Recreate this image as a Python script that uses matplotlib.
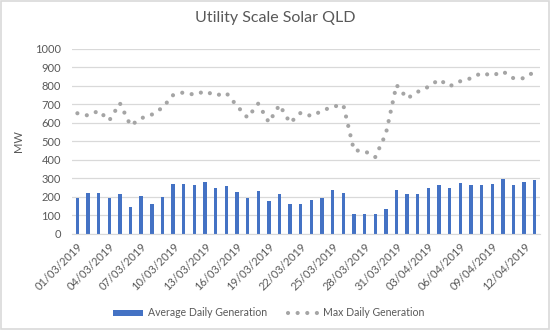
import numpy as np
import pandas as pd
import matplotlib
matplotlib.use("Agg")
import matplotlib.pyplot as plt
from matplotlib.lines import Line2D
from matplotlib.patches import Patch, Rectangle

plt.rcParams["font.family"] = ["Lato", "DejaVu Sans"]

# =========================
# data
# =========================
dates = pd.date_range("2019-03-01", "2019-04-13", freq="D")
date_labels = [d.strftime("%d/%m/%Y") for d in dates]

avg_gen = [196, 222, 222, 196, 216, 148, 205, 162, 200, 270,
           270, 265, 281, 249, 259, 227, 195, 232, 178, 216,
           162, 162, 184, 195, 238, 222, 108, 108, 108, 135,
           238, 216, 216, 249, 265, 249, 276, 265, 265, 270,
           297, 265, 281, 292]

max_gen = [652, 640, 665, 613, 706, 586, 625, 645, 682, 750,
           765, 752, 771, 748, 762, 692, 628, 704, 603, 697,
           600, 655, 637, 665, 688, 697, 452, 448, 415, 541,
           805, 732, 768, 795, 834, 798, 825, 841, 870, 855,
           878, 841, 841, 878]

bar_color = "#4472C4"
line_color = "#A5A5A5"
text_color = "#595959"
grid_color = "#D9D9D9"

# =========================
# plot
# =========================
fig = plt.figure(figsize=(5.5, 3.3), dpi=100)
ax = fig.add_axes([0.131, 0.291, 0.851, 0.561])

x = np.arange(len(dates))
ax.bar(x, avg_gen, width=0.32, color=bar_color, zorder=2)
ax.plot(x, max_gen, color=line_color, linewidth=3.0,
        linestyle=(0, (0.01, 2.3)), dash_capstyle="round", zorder=3)

ax.set_xlim(-0.5, len(dates) - 0.5)
ax.set_ylim(0, 1000)
ax.set_yticks(range(0, 1001, 100))
ax.yaxis.grid(True, color=grid_color, linewidth=0.9)
ax.set_axisbelow(True)

ax.set_xticks(x[::3])
ax.set_xticklabels(date_labels[::3], rotation=45, ha="right", va="top",
                   rotation_mode="anchor", fontsize=8, color=text_color)
ax.tick_params(axis="x", length=0, pad=5)
ax.tick_params(axis="y", length=0, pad=8, labelsize=8, labelcolor=text_color)

for s in ["top", "right", "left"]:
    ax.spines[s].set_visible(False)
ax.spines["bottom"].set_color(grid_color)

ax.set_ylabel("MW", fontsize=8, color=text_color, labelpad=8)

fig.text(0.5, 0.945, "Utility Scale Solar QLD", ha="center", va="center",
         fontsize=11.5, color=text_color)

handles = [
    Patch(facecolor=bar_color, edgecolor="none"),
    Line2D([0], [0], color=line_color, linewidth=3.0,
           linestyle=(0, (0.01, 2.3)), dash_capstyle="round"),
]
fig.legend(handles, ["Average Daily Generation", "Max Daily Generation"],
           loc="center", bbox_to_anchor=(0.488, 0.052), ncol=2, frameon=False,
           fontsize=7.6, labelcolor=text_color, handlelength=2.9,
           handleheight=0.5, columnspacing=2.0, handletextpad=0.4)

# chart area border
fig.patches.append(Rectangle((0.002, 0.003), 0.996, 0.994, transform=fig.transFigure,
                             fill=False, edgecolor=grid_color, linewidth=1.2))

fig.savefig("out.png", dpi=100)
